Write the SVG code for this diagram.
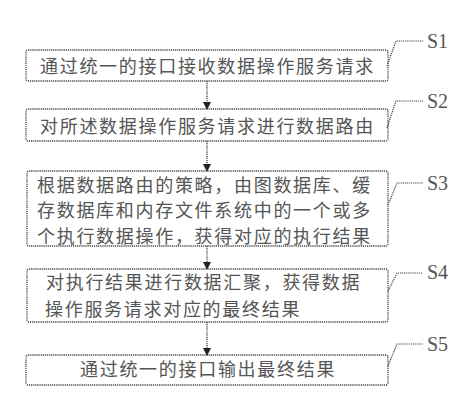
<svg xmlns="http://www.w3.org/2000/svg" width="464" height="418" viewBox="0 0 464 418">
<defs>
<marker id="ah" markerWidth="8" markerHeight="8" refX="7" refY="4" orient="auto" markerUnits="userSpaceOnUse">
<path d="M0,0 L8,4 L0,8 Z" fill="#222"/>
</marker>
<style>
.box{fill:none;stroke:#444;stroke-width:1.3;stroke-dasharray:1.2 0.9}
.t{font-family:"Noto Sans CJK SC","Noto Sans CJK JP",sans-serif;font-size:18px;fill:#555;letter-spacing:1.7px}
.lbl{font-family:"Liberation Serif",serif;font-size:20px;fill:#555}
.ld{fill:none;stroke:#444;stroke-width:1.2;stroke-dasharray:1.2 0.9}
.con{fill:none;stroke:#333;stroke-width:1.2;stroke-dasharray:1.2 0.9}
</style>
</defs>
<rect width="464" height="418" fill="#fff"/>
<g id="connectors">
<line class="con" x1="207" y1="81" x2="207" y2="109" marker-end="url(#ah)"/>
<line class="con" x1="207" y1="141" x2="207" y2="171" marker-end="url(#ah)"/>
<line class="con" x1="207" y1="246" x2="207" y2="269" marker-end="url(#ah)"/>
<line class="con" x1="207" y1="322" x2="207" y2="355" marker-end="url(#ah)"/>
</g>
<g id="S1">
<rect class="box" x="26" y="50" width="362" height="31" rx="2"/>
<text class="t" x="40" y="73">通过统一的接口接收数据操作服务请求</text>
<path class="ld" d="M387,66 L396,41 L423,41"/>
<text class="lbl" x="427" y="48">S1</text>
</g>
<g id="S2">
<rect class="box" x="26" y="109" width="362" height="32" rx="2"/>
<text class="t" x="40" y="133">对所述数据操作服务请求进行数据路由</text>
<path class="ld" d="M387,128 L396,101 L423,101"/>
<text class="lbl" x="427" y="108">S2</text>
</g>
<g id="S3">
<rect class="box" x="27" y="171" width="361" height="75" rx="2"/>
<text class="t" x="37" y="192">根据数据路由的策略，由图数据库、缓</text>
<text class="t" x="37" y="217">存数据库和内存文件系统中的一个或多</text>
<text class="t" x="37" y="243">个执行数据操作，获得对应的执行结果</text>
<path class="ld" d="M388,205 L397,183 L423,183"/>
<text class="lbl" x="427" y="190">S3</text>
</g>
<g id="S4">
<rect class="box" x="27" y="269" width="361" height="53" rx="2"/>
<text class="t" x="46" y="289">对执行结果进行数据汇聚，获得数据</text>
<text class="t" x="45" y="316">操作服务请求对应的最终结果</text>
<path class="ld" d="M388,291 L397,273 L423,273"/>
<text class="lbl" x="427" y="279">S4</text>
</g>
<g id="S5">
<rect class="box" x="26" y="355" width="362" height="30" rx="2"/>
<text class="t" x="80" y="376">通过统一的接口输出最终结果</text>
<path class="ld" d="M388,366 L397,344 L423,344"/>
<text class="lbl" x="427" y="351">S5</text>
</g>
</svg>
